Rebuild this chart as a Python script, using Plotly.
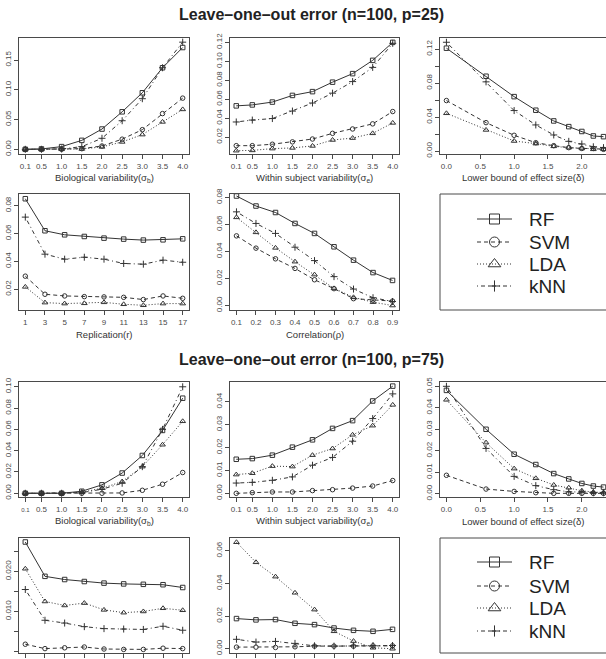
import plotly.graph_objects as go

W, H = 606, 659
FONT = "Liberation Sans, Arial, sans-serif"
LC = "#4a4a4a"   # box / tick colour
TC = "#4a4a4a"   # tick label colour
SC = "#333333"   # series colour

# ---------------- data ----------------
sigma_vals = [0.1, 0.5, 1.0, 1.5, 2.0, 2.5, 3.0, 3.5, 4.0]
sigma_text = ["0.1", "0.5", "1.0", "1.5", "2.0", "2.5", "3.0", "3.5", "4.0"]
delta_vals = [0.0, 0.585, 1.0, 1.32, 1.585, 1.807, 2.0, 2.17, 2.32]
delta_ticks = [0.0, 0.5, 1.0, 1.5, 2.0]
delta_text = ["0.0", "0.5", "1.0", "1.5", "2.0"]
rep_vals = [1, 3, 5, 7, 9, 11, 13, 15, 17]
rho_vals = [0.1, 0.2, 0.3, 0.4, 0.5, 0.6, 0.7, 0.8, 0.9]
rho_text = ["0.1", "0.2", "0.3", "0.4", "0.5", "0.6", "0.7", "0.8", "0.9"]
methods = ["RF", "SVM", "LDA", "kNN"]

# p = 25
a_rf = [0.000, 0.0006, 0.0045, 0.015, 0.034, 0.063, 0.095, 0.137, 0.171]
a_svm = [0.000, 0.000, 0.000, 0.001, 0.0056, 0.017, 0.033, 0.060, 0.086]
a_lda = [0.000, 0.000, 0.000, 0.0005, 0.004, 0.0124, 0.0247, 0.046, 0.067]
a_knn = [0.000, 0.000, 0.0005, 0.0045, 0.0185, 0.048, 0.085, 0.137, 0.180]

b_rf = [0.053, 0.054, 0.057, 0.064, 0.068, 0.078, 0.087, 0.101, 0.120]
b_svm = [0.011, 0.011, 0.0125, 0.015, 0.018, 0.024, 0.0286, 0.034, 0.047]
b_lda = [0.0057, 0.006, 0.0079, 0.0086, 0.0107, 0.017, 0.019, 0.024, 0.035]
b_knn = [0.036, 0.038, 0.0396, 0.0475, 0.056, 0.0664, 0.0786, 0.0936, 0.119]

c_rf = [0.121, 0.088, 0.064, 0.048, 0.0354, 0.0287, 0.023, 0.0177, 0.0169]
c_svm = [0.0594, 0.0334, 0.0185, 0.0098, 0.0063, 0.004, 0.003, 0.003, 0.002]
c_lda = [0.0444, 0.0248, 0.0118, 0.0087, 0.0055, 0.004, 0.003, 0.002, 0.002]
c_knn = [0.128, 0.0814, 0.0476, 0.0307, 0.0189, 0.0114, 0.0083, 0.005, 0.004]

d_rf = [0.085, 0.062, 0.0591, 0.0579, 0.0567, 0.056, 0.0553, 0.0555, 0.0562]
d_svm = [0.0294, 0.0164, 0.0152, 0.0147, 0.0145, 0.0142, 0.0126, 0.0152, 0.0135]
d_lda = [0.0217, 0.0104, 0.0097, 0.0099, 0.0106, 0.0092, 0.0085, 0.0097, 0.0097]
d_knn = [0.0718, 0.0452, 0.0416, 0.043, 0.0416, 0.0385, 0.038, 0.0409, 0.0394]

e_rf = [0.0811, 0.0737, 0.0689, 0.0608, 0.0534, 0.0435, 0.0336, 0.0244, 0.0186]
e_svm = [0.0516, 0.0425, 0.0346, 0.0275, 0.0191, 0.0125, 0.0051, 0.004, 0.0033]
e_lda = [0.0653, 0.0542, 0.0427, 0.0325, 0.0229, 0.0127, 0.0061, 0.0025, 0.0]
e_knn = [0.0694, 0.0608, 0.0534, 0.0432, 0.0333, 0.0214, 0.0122, 0.0058, 0.003]

# p = 75
f_rf = [0.0, 0.0, 0.0, 0.0019, 0.0079, 0.019, 0.0355, 0.059, 0.0893]
f_svm = [0.0, 0.0, 0.0, 0.0, 0.0, 0.0003, 0.0028, 0.0085, 0.0195]
f_lda = [0.0, 0.0, 0.0, 0.001, 0.0047, 0.011, 0.025, 0.0456, 0.0676]
f_knn = [0.0, 0.0, 0.0, 0.0006, 0.0038, 0.0094, 0.025, 0.060, 0.100]

g_rf = [0.0149, 0.0152, 0.0167, 0.0202, 0.0234, 0.0284, 0.0318, 0.0404, 0.0469]
g_svm = [0.0, 0.0003, 0.0006, 0.0006, 0.0012, 0.0016, 0.0023, 0.0032, 0.0056]
g_lda = [0.0082, 0.0088, 0.0119, 0.0117, 0.0167, 0.0196, 0.0256, 0.0296, 0.0387]
g_knn = [0.0045, 0.0048, 0.0057, 0.0072, 0.0123, 0.0157, 0.0228, 0.0327, 0.0435]

h_rf = [0.0481, 0.030, 0.0184, 0.0136, 0.0094, 0.0069, 0.0048, 0.0036, 0.0031]
h_svm = [0.0086, 0.0022, 0.0011, 0.0005, 0.0002, 0.0002, 0.0002, 0.0002, 0.0002]
h_lda = [0.0437, 0.0238, 0.0117, 0.0072, 0.0041, 0.0028, 0.0014, 0.0008, 0.0006]
h_knn = [0.050, 0.0211, 0.0081, 0.0038, 0.0019, 0.0009, 0.0008, 0.0005, 0.0005]

i_rf = [0.0274, 0.0188, 0.018, 0.0175, 0.0171, 0.0169, 0.0168, 0.0167, 0.016]
i_svm = [0.0018, 0.0007, 0.0009, 0.0011, 0.0006, 0.0005, 0.0005, 0.0008, 0.0007]
i_lda = [0.0207, 0.0125, 0.0115, 0.0121, 0.0104, 0.0097, 0.010, 0.0108, 0.0103]
i_knn = [0.0155, 0.0078, 0.0071, 0.0062, 0.0057, 0.0056, 0.0055, 0.0063, 0.0053]

j_rf = [0.0185, 0.0177, 0.0179, 0.0156, 0.0148, 0.0127, 0.0113, 0.0107, 0.0119]
j_svm = [0.001, 0.001, 0.0008, 0.0012, 0.0016, 0.0016, 0.0016, 0.0018, 0.0018]
j_lda = [0.0653, 0.053, 0.0442, 0.0343, 0.024, 0.0107, 0.0047, 0.0006, 0.0]
j_knn = [0.0058, 0.0041, 0.0045, 0.0033, 0.0018, 0.0016, 0.0018, 0.002, 0.002]

titles = ["Leave\u2013one\u2013out error (n=100, p=25)",
          "Leave\u2013one\u2013out error (n=100, p=75)"]
xlabels = {
    "bio": "Biological variability(\u03c3<sub>b</sub>)",
    "within": "Within subject variability(\u03c3<sub>e</sub>)",
    "delta": "Lower bound of effect size(\u03b4)",
    "rep": "Replication(r)",
    "rho": "Correlation(\u03c1)",
}

# ---------------- styling ----------------
STY = {
    "RF": dict(dash="solid", symbol="square-open", size=4.5, lsize=10),
    "SVM": dict(dash="4px,3px", symbol="circle-open", size=4.5, lsize=10),
    "LDA": dict(dash="1px,2px", symbol="triangle-up-open", size=5, lsize=11),
    "kNN": dict(dash="1px,3px,4px,3px", symbol="cross-thin-open", size=5, lsize=8),
}

def fx(px):
    return px / W

def fy(py):
    return 1 - py / H

cols = [(19, 189), (230, 399), (440, 606)]
rows = [(38, 154), (194, 310), (382, 497), (538, 653)]

def frange(lo, hi, step):
    out = []
    v = lo
    while v <= hi + 1e-9:
        out.append(round(v, 6))
        v += step
    return out

panels = [
    dict(r=0, c=0, kind="bio", s=[a_rf, a_svm, a_lda, a_knn], yr=[-0.0079, 0.187],
         yt=frange(0, 0.15, 0.05), fmt="{:.2f}"),
    dict(r=0, c=1, kind="within", s=[b_rf, b_svm, b_lda, b_knn], yr=[0.0022, 0.1246],
         yt=frange(0.02, 0.12, 0.02), fmt="{:.2f}"),
    dict(r=0, c=2, kind="delta", s=[c_rf, c_svm, c_lda, c_knn], yr=[-0.0035, 0.133],
         yt=frange(0, 0.12, 0.04), fmt="{:.2f}", minor=0.02),
    dict(r=1, c=0, kind="rep", s=[d_rf, d_svm, d_lda, d_knn], yr=[0.0051, 0.0884],
         yt=frange(0.02, 0.08, 0.02), fmt="{:.2f}"),
    dict(r=1, c=1, kind="rho", s=[e_rf, e_svm, e_lda, e_knn], yr=[-0.0033, 0.0826],
         yt=frange(0, 0.08, 0.02), fmt="{:.2f}"),
    dict(r=2, c=0, kind="bio", s=[f_rf, f_svm, f_lda, f_knn], yr=[-0.0035, 0.1045],
         yt=frange(0, 0.10, 0.02), fmt="{:.2f}", small01=True),
    dict(r=2, c=1, kind="within", s=[g_rf, g_svm, g_lda, g_knn], yr=[-0.0016, 0.0487],
         yt=frange(0, 0.04, 0.01), fmt="{:.2f}"),
    dict(r=2, c=2, kind="delta", s=[h_rf, h_svm, h_lda, h_knn], yr=[-0.0015, 0.052],
         yt=frange(0, 0.05, 0.01), fmt="{:.2f}"),
    dict(r=3, c=0, kind="rep", s=[i_rf, i_svm, i_lda, i_knn], yr=[-0.0004, 0.0284],
         yt=frange(0, 0.02, 0.01), fmt="{:.3f}", minor=0.005),
    dict(r=3, c=1, kind="rho", s=[j_rf, j_svm, j_lda, j_knn], yr=[-0.0026, 0.0679],
         yt=frange(0, 0.06, 0.02), fmt="{:.2f}"),
]

XSPEC = {
    "bio": (sigma_vals, [-0.056, 4.156], sigma_vals, sigma_text),
    "within": (sigma_vals, [-0.056, 4.156], sigma_vals, sigma_text),
    "delta": (delta_vals, [-0.095, 2.357], delta_ticks, delta_text),
    "rep": (rep_vals, [0.36, 17.64], rep_vals, [str(v) for v in rep_vals]),
    "rho": (rho_vals, [0.0668, 0.9332], rho_vals, rho_text),
}

fig = go.Figure()
layout = dict(
    width=W, height=H, margin=dict(l=0, r=0, t=0, b=0),
    paper_bgcolor="white", plot_bgcolor="white",
    showlegend=False, template="none",
    font=dict(family=FONT, color="#333"),
)
annotations = []
shapes = []

axis_base = dict(showline=True, linecolor=LC, linewidth=1, ticks="outside",
                 ticklen=4, tickwidth=1, tickcolor=LC, showgrid=False,
                 zeroline=False, tickfont=dict(family=FONT, size=8, color=TC))

for k, p in enumerate(panels, start=1):
    x0, x1 = cols[p["c"]]
    y0, y1 = rows[p["r"]]
    xs, xr, xt, xtt = XSPEC[p["kind"]]
    xtt = list(xtt)
    if p.get("small01"):
        xtt[0] = "<span style='font-size:6px'>0.1</span>"
    bottom = p["r"] == 3
    right_edge = p["c"] == 2
    xa = dict(axis_base, domain=[fx(x0), fx(x1)], range=xr, tickvals=xt,
              ticktext=xtt, mirror=True, anchor="y%d" % k,
              showticklabels=not bottom)
    ytext = [p["fmt"].format(v) for v in p["yt"]]
    ya = dict(axis_base, domain=[fy(y1), fy(y0)], range=p["yr"], tickvals=p["yt"],
              ticktext=ytext, tickangle=-90, mirror=not right_edge,
              anchor="x%d" % k)
    if p.get("minor"):
        ya["minor"] = dict(dtick=p["minor"], tick0=0, ticks="outside", ticklen=4,
                           tickwidth=1, tickcolor=LC, showgrid=False)
    layout["xaxis%d" % k] = xa
    layout["yaxis%d" % k] = ya
    for m, ys in zip(methods, p["s"]):
        st = STY[m]
        fig.add_trace(go.Scatter(
            x=xs, y=ys, xaxis="x%d" % k, yaxis="y%d" % k, mode="lines+markers",
            line=dict(color=SC, width=1, dash=st["dash"]),
            marker=dict(symbol=st["symbol"], size=st["size"], color=SC,
                        line=dict(color=SC, width=1)),
            name=m, cliponaxis=False, hoverinfo="skip"))
    if not bottom:
        annotations.append(dict(
            text=xlabels[p["kind"]], x=fx((x0 + x1) / 2), y=fy(y1 + 24),
            xref="paper", yref="paper", showarrow=False, xanchor="center",
            yanchor="middle", font=dict(family=FONT, size=9.5, color="#333")))

# legends: own axes in pixel units
leg_boxes = [(194, 310, [219, 242, 264, 286]), (538, 653, [562, 586, 608, 631])]
for li, (ty, by, rws) in enumerate(leg_boxes):
    k = 11 + li
    layout["xaxis%d" % k] = dict(domain=[fx(440), 1.0], range=[440, 606],
                                 visible=False, anchor="y%d" % k, fixedrange=True)
    layout["yaxis%d" % k] = dict(domain=[fy(by), fy(ty)], range=[by, ty],
                                 visible=False, anchor="x%d" % k, fixedrange=True)
    shapes.append(dict(type="rect", xref="paper", yref="paper",
                       x0=fx(440), x1=fx(612), y0=fy(by), y1=fy(ty),
                       line=dict(color=LC, width=1)))
    for m, ry in zip(methods, rws):
        st = STY[m]
        fig.add_trace(go.Scatter(
            x=[477, 512], y=[ry, ry], xaxis="x%d" % k, yaxis="y%d" % k,
            mode="lines", line=dict(color=SC, width=1, dash=st["dash"]),
            hoverinfo="skip"))
        fig.add_trace(go.Scatter(
            x=[494.5], y=[ry], xaxis="x%d" % k, yaxis="y%d" % k, mode="markers",
            marker=dict(symbol=st["symbol"], size=st["lsize"], color=SC,
                        line=dict(color=SC, width=1)), hoverinfo="skip"))
        annotations.append(dict(
            text=m, x=527, y=ry, xref="x%d" % k, yref="y%d" % k, showarrow=False,
            xanchor="left", yanchor="middle",
            font=dict(family=FONT, size=19, color="#222")))

for t, ty in zip(titles, [15, 360]):
    annotations.append(dict(
        text="<b>%s</b>" % t, x=fx(311), y=fy(ty), xref="paper", yref="paper",
        showarrow=False, xanchor="center", yanchor="middle",
        font=dict(family=FONT, size=16, color="#222")))

layout["annotations"] = annotations
layout["shapes"] = shapes
fig.update_layout(**layout)
fig.write_html("out.html")
